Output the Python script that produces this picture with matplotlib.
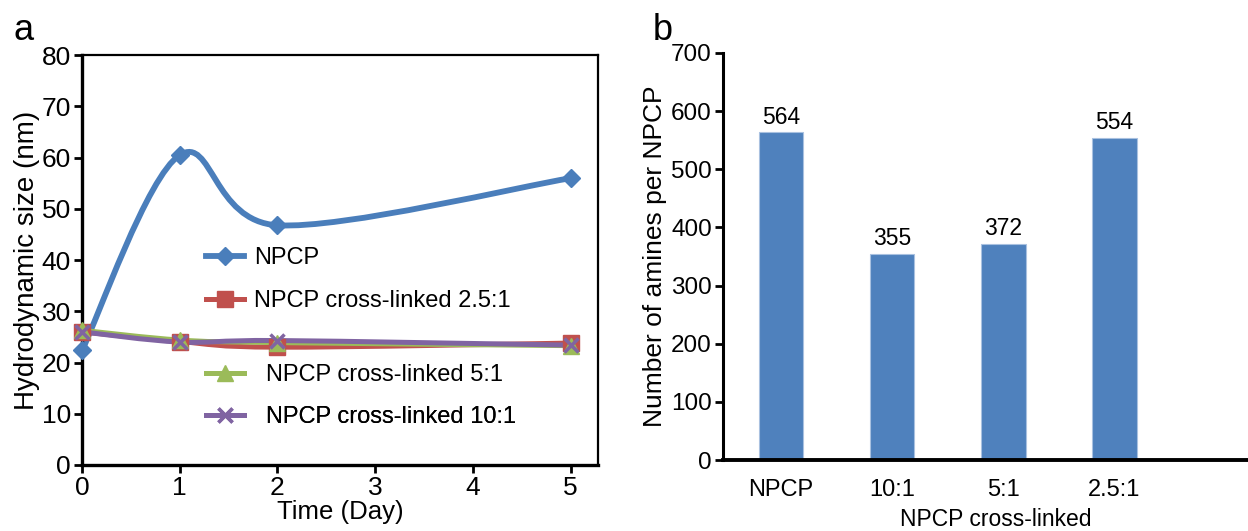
import numpy as np
import matplotlib
matplotlib.use('Agg')
import matplotlib.pyplot as plt
from matplotlib.path import Path
from matplotlib.patches import PathPatch
from matplotlib.lines import Line2D

plt.rcParams['font.family'] = ['Liberation Sans', 'DejaVu Sans']

# hydrodynamic size over time
days = [0, 1, 2, 5]
npcp = [22.4, 60.5, 46.8, 56.0]
xl_25 = [26.0, 24.1, 23.0, 23.8]
xl_5 = [26.3, 24.4, 23.9, 23.3]
xl_10 = [26.0, 24.0, 24.3, 23.4]
series_names = ['NPCP', 'NPCP cross-linked 2.5:1', 'NPCP cross-linked 5:1', 'NPCP cross-linked 10:1']

# amines per particle
groups = ['NPCP', '10:1', '5:1', '2.5:1']
amines = [564, 355, 372, 554]

blue = '#4A7EBB'
red = '#C0504D'
green = '#9BBB59'
purple = '#8064A2'
bar_blue = '#4F81BD'


def smooth_path(x, y):
    # bezier segments through the points, excel-style smoothing
    pts = np.column_stack([x, y]).astype(float)
    n = len(pts)
    verts = [pts[0]]
    codes = [Path.MOVETO]
    for i in range(n - 1):
        p0 = pts[max(i - 1, 0)]
        p1 = pts[i]
        p2 = pts[i + 1]
        p3 = pts[min(i + 2, n - 1)]
        c1 = p1 + (p2 - p0) / 6
        c2 = p2 - (p3 - p1) / 6
        verts += [c1, c2, p2]
        codes += [Path.CURVE4] * 3
    return Path(verts, codes)


fig = plt.figure(figsize=(12.48, 5.31), dpi=100)
ax1 = fig.add_axes([0.0657, 0.1243, 0.4135, 0.7717])
ax2 = fig.add_axes([0.5793, 0.1337, 0.4207, 0.7665])

# panel a
styles = [
    (npcp, blue, 'D', 9, 4.2),
    (xl_25, red, 's', 11, 3.6),
    (xl_5, green, '^', 11, 3.6),
    (xl_10, purple, 'x', 10, 3.6),
]
handles = []
for (vals, col, mk, ms, lw), name in zip(styles, series_names):
    ax1.add_patch(PathPatch(smooth_path(days, vals), facecolor='none',
                            edgecolor=col, lw=lw, capstyle='round', zorder=2))
    ax1.plot(days, vals, ls='none', marker=mk, ms=ms, color=col,
             mec=col, mew=2.5 if mk == 'x' else 1, zorder=3, clip_on=False)
    handles.append(Line2D([], [], color=col, lw=lw, marker=mk, ms=ms, mec=col,
                          mew=2.5 if mk == 'x' else 1))

ax1.set_xlim(0, 5.28)
ax1.set_ylim(0, 80)
ax1.set_xticks([0, 1, 2, 3, 4, 5])
ax1.set_yticks(range(0, 81, 10))
ax1.tick_params(labelsize=19, width=2, length=6, direction='out', pad=2)
for s in ax1.spines.values():
    s.set_linewidth(1.6)
ax1.spines['left'].set_linewidth(2.4)
ax1.spines['bottom'].set_linewidth(2.4)
ax1.set_xlabel('Time (Day)', fontsize=18.5, labelpad=0)
ax1.set_ylabel('Hydrodynamic size (nm)', fontsize=20, labelpad=1)

# legend entries sit at uneven heights, one legend per entry
leg_pos = [(0.240, 0.505), (0.240, 0.400), (0.240, 0.220), (0.240, 0.117)]
leg_pad = [0.45, 0.45, 0.95, 0.95]
for h, name, (lx, ly), tp in zip(handles, series_names, leg_pos, leg_pad):
    leg = ax1.legend([h], [name], loc='center left', bbox_to_anchor=(lx, ly),
                     frameon=False, fontsize=17, handlelength=1.6,
                     handletextpad=tp, borderpad=0, borderaxespad=0)
    ax1.add_artist(leg)

# panel b
pos = np.arange(len(groups))
bars = ax2.bar(pos, amines, width=0.4, color=bar_blue, edgecolor='#A9C1E0', lw=0.8)
for b, v in zip(bars, amines):
    ax2.text(b.get_x() + b.get_width() / 2, v + 6, str(v), ha='center', va='bottom',
             fontsize=16.5)

ax2.set_xlim(-0.52, 4.2)
ax2.set_ylim(0, 700)
ax2.set_yticks(range(0, 701, 100))
ax2.set_xticks(pos)
ax2.set_xticklabels(groups, fontsize=17)
ax2.tick_params(axis='y', labelsize=17.5, width=2, length=6, pad=2)
ax2.tick_params(axis='x', length=0, pad=14)
ax2.spines['top'].set_visible(False)
ax2.spines['right'].set_visible(False)
ax2.spines['left'].set_linewidth(2.2)
ax2.spines['bottom'].set_linewidth(2.8)
ax2.set_ylabel('Number of amines per NPCP', fontsize=19, labelpad=3)
ax2.set_xlabel('NPCP cross-linked', fontsize=16.5)
ax2.xaxis.set_label_coords(0.52, -0.118)

fig.text(0.011, 0.925, 'a', fontsize=26)
fig.text(0.523, 0.925, 'b', fontsize=26)

fig.savefig('out.png', dpi=100)
